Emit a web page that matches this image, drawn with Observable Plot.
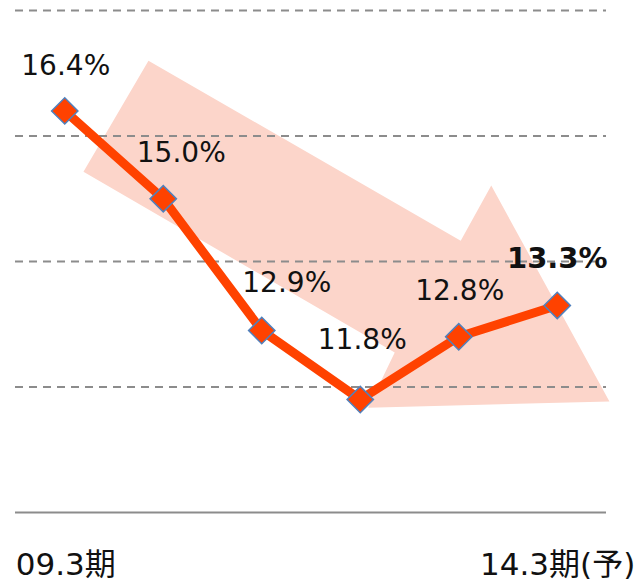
<!DOCTYPE html>
<html>
<head>
<meta charset="utf-8">
<script src="https://cdn.jsdelivr.net/npm/d3@7"></script>
<script src="https://cdn.jsdelivr.net/npm/@observablehq/plot@0.6"></script>
<style>
  html, body { margin: 0; padding: 0; background: #fff; }
  #chart svg { display: block; }
</style>
</head>
<body>
<div id="chart"></div>
<script>
// Categories (fiscal periods) and values
const periods = ["09.3期", "10.3期", "11.3期", "12.3期", "13.3期", "14.3期(予)"];
const values = [16.4, 15.0, 12.9, 11.8, 12.8, 13.3];
const valueLabels = ["16.4%", "15.0%", "12.9%", "11.8%", "12.8%", "13.3%"];
const tickLabels = ["09.3期", "", "", "", "", "14.3期(予)"];
const gridValues = [12, 14, 16, 18];
const baseValue = 10;
// Decorative trend arrow outline, in (period index, %) units
const arrowIdx = [0.85, 4.02, 4.33, 5.53, 3.08, 3.35, 0.19];
const arrowPct = [17.20, 14.33, 15.21, 11.77, 11.67, 12.55, 15.43];

const data = values.map((v, i) => ({i, v, label: valueLabels[i], period: periods[i]}));
const arrow = arrowIdx.map((x, k) => ({x, y: arrowPct[k]}));

const font = "'DejaVu Sans', 'Noto Sans CJK JP', sans-serif";
const red = "#ff4200";

// label placement offsets (px) relative to each point
const labelDx = [1, 18, 25, 2, 1, 0];
const labelDy = [-45, -46, -47, -60, -46, -47];

const labelMarks = data.map((d, k) => Plot.text([d], {
  x: "i", y: "v", text: "label",
  dx: labelDx[k], dy: labelDy[k],
  fontSize: k === 5 ? 29 : 28,
  fontWeight: k === 5 ? 700 : 400,
  fill: "#111",
  lineAnchor: "middle"
}));

const tickMarks = data.map((d, k) => tickLabels[k] ? Plot.text([d], {
  x: "i", y: () => baseValue,
  text: () => tickLabels[k],
  textAnchor: k === 0 ? "start" : "end",
  dx: k === 0 ? -49 : 78,
  dy: 53,
  fontSize: 31,
  fill: "#111",
  lineAnchor: "middle"
}) : null).filter(Boolean);

const chart = Plot.plot({
  width: 639,
  height: 583,
  marginLeft: 15,
  marginRight: 33,
  marginTop: 10,
  marginBottom: 71,
  style: {fontFamily: font, background: "#fff", overflow: "visible"},
  x: {type: "linear", domain: [-0.5, 5.5], axis: null},
  y: {domain: [10, 18], axis: null},
  marks: [
    Plot.line(arrow, {x: "x", y: "y", fill: "#fcd5ca", stroke: "none", curve: "linear-closed"}),
    Plot.ruleY(gridValues, {stroke: "#8c8c8c", strokeWidth: 2, strokeDasharray: "8,6"}),
    Plot.ruleY([baseValue], {stroke: "#8c8c8c", strokeWidth: 2}),
    Plot.line(data, {x: "i", y: "v", stroke: red, strokeWidth: 9, strokeLinejoin: "round"}),
    Plot.dot(data, {x: "i", y: "v", symbol: "square", r: 10.5, rotate: 45, fill: red, stroke: "#4f81bd", strokeWidth: 1.5}),
    ...labelMarks,
    ...tickMarks
  ]
});
document.getElementById("chart").appendChild(chart);
</script>
</body>
</html>
